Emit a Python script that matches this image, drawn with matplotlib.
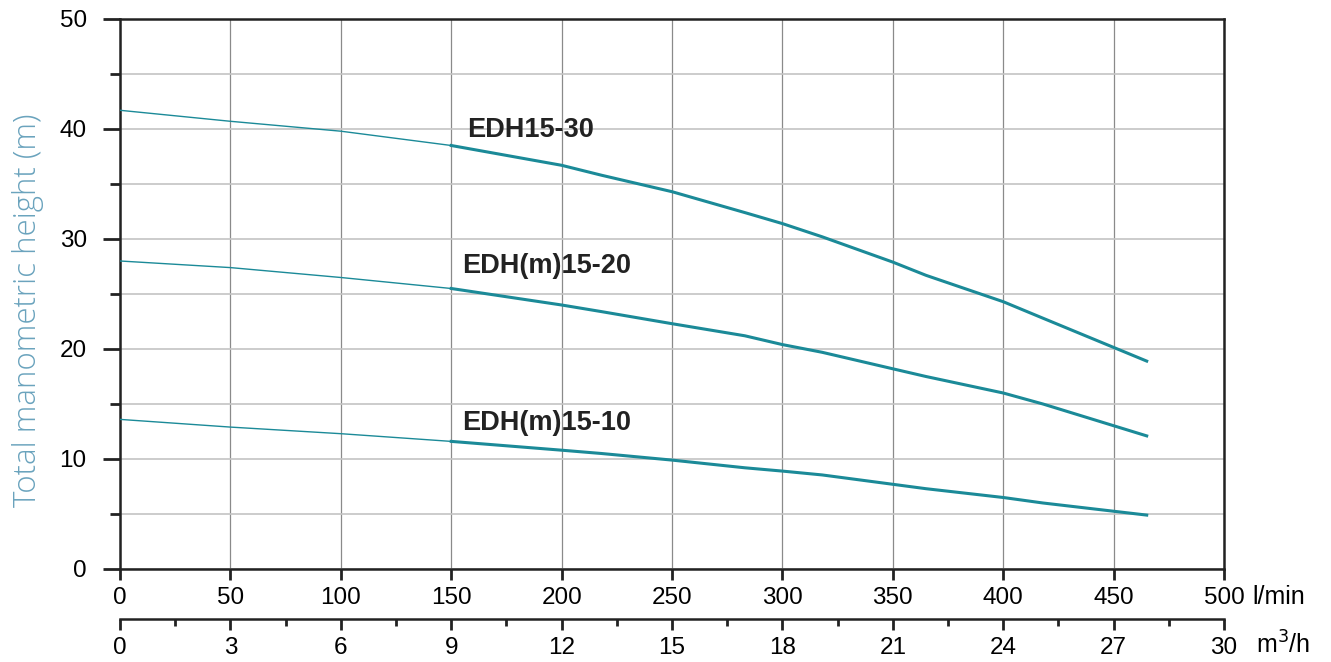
import numpy as np
import matplotlib.pyplot as plt
from matplotlib.ticker import MultipleLocator

plt.rcParams['font.family'] = ['Liberation Sans', 'DejaVu Sans']

# flow in l/min, head in m
flow = [0, 50, 100, 150, 200, 218, 250, 283, 300, 318, 350, 365, 400, 418, 465]
head_30 = [41.7, 40.7, 39.8, 38.5, 36.7, 35.8, 34.3, 32.4, 31.4, 30.2, 27.9, 26.7, 24.3, 22.8, 18.9]
head_20 = [28.0, 27.4, 26.5, 25.5, 24.0, 23.4, 22.3, 21.2, 20.4, 19.7, 18.2, 17.5, 16.0, 15.0, 12.1]
head_10 = [13.6, 12.9, 12.3, 11.6, 10.8, 10.5, 9.9, 9.2, 8.9, 8.55, 7.7, 7.3, 6.5, 6.0, 4.9]
labels = ["EDH15-30", "EDH(m)15-20", "EDH(m)15-10"]
label_pos = [(157, 39.9), (155, 27.5), (155, 13.3)]
lmin_ticks = list(range(0, 501, 50))
m3h_ticks = list(range(0, 31, 3))

teal = "#1b8a98"
fig = plt.figure(figsize=(13.31, 6.62), dpi=100)
ax = fig.add_axes([0.0902, 0.1405, 0.8294, 0.8308])

x = np.array(flow)
for h in [head_30, head_20, head_10]:
    h = np.array(h)
    ax.plot(x[x <= 150], h[x <= 150], color=teal, lw=1.0, zorder=3)
    ax.plot(x[x >= 150], h[x >= 150], color=teal, lw=2.2, zorder=3)

for txt, (lx, ly) in zip(labels, label_pos):
    ax.text(lx, ly, txt, fontsize=19.5, fontweight='bold', color='#222222',
            ha='left', va='center', zorder=4)

ax.set_xlim(0, 500)
ax.set_ylim(0, 50)
ax.set_xticks(lmin_ticks)
ax.yaxis.set_major_locator(MultipleLocator(10))
ax.yaxis.set_minor_locator(MultipleLocator(5))
ax.grid(axis='x', which='major', color='#8a8a8a', lw=0.9)
ax.grid(axis='y', which='both', color='#c4c4c4', lw=1.2)
ax.set_axisbelow(True)

for s in ax.spines.values():
    s.set_linewidth(1.8)
    s.set_color('#222222')

ax.tick_params(axis='y', which='major', length=12, width=2, labelsize=17.5, pad=12, color='#222222')
ax.tick_params(axis='y', which='minor', length=7, width=2, color='#222222')
ax.tick_params(axis='x', which='major', length=8, width=2, labelsize=17.5, pad=5, color='#222222')
ax.set_ylabel("Total manometric height (m)", fontsize=22.5, color='#6aa3bd',
              family=['Open Sans', 'DejaVu Sans'], fontweight='light')
ax.yaxis.set_label_coords(-0.069, 0.47)

ax.text(1.0256, -0.051, "l/min", transform=ax.transAxes, fontsize=18, ha='left', va='center')

ax2 = ax.twiny()
ax2.set_xlim(0, 30)
ax2.xaxis.set_ticks_position('bottom')
ax2.spines['bottom'].set_position(('outward', 36))
for k in ['top', 'left', 'right']:
    ax2.spines[k].set_visible(False)
ax2.spines['bottom'].set_linewidth(1.8)
ax2.spines['bottom'].set_color('#222222')
ax2.set_xticks(m3h_ticks)
ax2.xaxis.set_minor_locator(MultipleLocator(1.5))
ax2.tick_params(axis='x', which='major', length=8, width=2, labelsize=17.5, pad=5, color='#222222')
ax2.tick_params(axis='x', which='minor', length=5, width=2, color='#222222')
ax.text(1.029, -0.138, "m$^3$/h", transform=ax.transAxes, fontsize=18, ha='left', va='center')

fig.savefig("out.png", dpi=100)
